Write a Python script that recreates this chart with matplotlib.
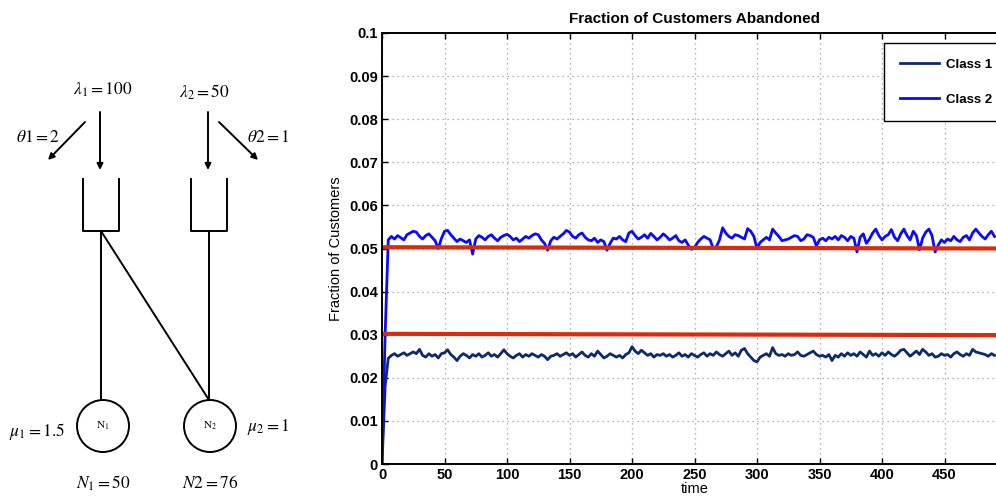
import numpy as np
import matplotlib
matplotlib.use("Agg")
import matplotlib.pyplot as plt
from matplotlib.patches import Circle

# simulated abandonment fractions, sampled every 2.5 time units (values x 1e-4)
time = np.arange(0, 490.1, 2.5)
class1_e4 = [
    0, 180, 245, 252, 256, 250, 254, 258, 252, 256,
    260, 256, 266, 252, 248, 256, 250, 254, 246, 256,
    258, 265, 254, 248, 240, 250, 256, 252, 246, 254,
    250, 256, 248, 252, 258, 250, 254, 248, 256, 265,
    256, 250, 246, 252, 256, 248, 254, 250, 256, 252,
    248, 254, 250, 242, 250, 252, 256, 250, 254, 258,
    252, 256, 248, 254, 260, 252, 248, 256, 250, 262,
    254, 246, 250, 256, 252, 248, 252, 246, 254, 258,
    272, 262, 256, 264, 258, 252, 256, 248, 254, 252,
    256, 250, 254, 248, 252, 258, 250, 254, 248, 256,
    252, 248, 254, 258, 250, 256, 252, 260, 254, 250,
    256, 262, 252, 258, 250, 264, 268, 256, 248, 240,
    237, 248, 252, 256, 250, 270, 256, 252, 254, 250,
    256, 252, 254, 260, 252, 250, 254, 258, 262, 254,
    250, 252, 248, 254, 240, 252, 248, 256, 250, 258,
    252, 256, 250, 260, 254, 248, 262, 252, 256, 250,
    258, 252, 260, 254, 250, 256, 264, 266, 258, 250,
    256, 262, 254, 266, 260, 252, 256, 248, 250, 256,
    252, 254, 248, 256, 260, 254, 250, 256, 252, 266,
    260, 258, 256, 254, 250, 256, 252,
]
class2_e4 = [
    0, 300, 520, 528, 522, 530, 525, 520, 532, 536,
    540, 538, 528, 522, 530, 534, 526, 518, 500, 523,
    540, 542, 532, 524, 516, 522, 518, 514, 520, 487,
    522, 530, 526, 520, 528, 532, 524, 518, 526, 530,
    533, 528, 520, 524, 516, 522, 528, 524, 530, 534,
    532, 520, 512, 496, 518, 526, 522, 528, 534, 542,
    538, 528, 524, 532, 536, 526, 520, 518, 524, 514,
    520, 516, 496, 512, 524, 522, 528, 520, 516, 536,
    540, 530, 522, 526, 532, 524, 535, 528, 520, 526,
    534, 528, 520, 524, 530, 518, 514, 520, 508, 498,
    502, 514, 522, 528, 524, 520, 500, 504, 520, 548,
    536, 528, 524, 532, 530, 526, 522, 546, 540, 528,
    500, 514, 520, 526, 520, 545, 536, 528, 518, 520,
    522, 526, 530, 528, 518, 522, 532, 530, 526, 506,
    520, 524, 518, 526, 522, 528, 520, 530, 526, 518,
    528, 524, 492, 526, 534, 512, 522, 536, 545, 530,
    520, 528, 532, 544, 526, 518, 534, 545, 530, 520,
    540, 530, 497, 524, 538, 545, 530, 492, 508, 520,
    514, 522, 518, 528, 520, 516, 526, 530, 520, 536,
    545, 536, 528, 522, 532, 540, 528,
]
class1 = np.array(class1_e4) / 1e4
class2 = np.array(class2_e4) / 1e4

# fluid-limit (theoretical) levels
theory_t = [0, 500]
theory1 = [0.0302, 0.0299]
theory2 = [0.0503, 0.0500]

xtick_vals = np.arange(0, 501, 50)
xtick_labels = [str(v) for v in xtick_vals[:-1]] + ['']  # 500 falls outside the image
ytick_vals = np.arange(0, 0.1001, 0.01)
ytick_labels = ['0', '0.01', '0.02', '0.03', '0.04', '0.05', '0.06',
                '0.07', '0.08', '0.09', '0.1']

plt.rcParams['mathtext.fontset'] = 'stix'
fig = plt.figure(figsize=(9.96, 4.97), dpi=100)

# ---- left: queueing network sketch, drawn in pixel coordinates ----
d = fig.add_axes([0, 0, 1, 1])
d.set_xlim(0, 996)
d.set_ylim(497, 0)
d.axis('off')
serif = dict(family='STIXGeneral', fontsize=12.5, ha='center', va='center')
lw = 1.4
arr = dict(arrowstyle='-|>', color='k', lw=lw, mutation_scale=9, shrinkA=0, shrinkB=0)
for x0, y0, x1, y1 in [(100, 112, 100, 170), (208, 112, 208, 170),
                       (85, 122, 48, 160), (219, 122, 258, 160)]:
    d.annotate('', xy=(x1, y1), xytext=(x0, y0), arrowprops=arr)
for xl, xr in [(83, 119), (191, 227)]:
    d.plot([xl, xl, xr, xr], [179, 231, 231, 179], color='k', lw=lw)
d.plot([101, 101], [231, 400], color='k', lw=lw)
d.plot([209, 209], [231, 400], color='k', lw=lw)
d.plot([101, 209], [231, 400], color='k', lw=lw)
d.add_patch(Circle((103, 426), 26, fill=False, ec='k', lw=lw))
d.add_patch(Circle((210, 426), 26, fill=False, ec='k', lw=lw))
d.text(103, 90, r'$\lambda_1 = 100$', **serif)
d.text(204, 92, r'$\lambda_2 = 50$', **serif)
d.text(38, 138, r'$\theta{\rm 1} = 2$', **serif)
d.text(268, 138, r'$\theta{\rm 2} = 1$', **serif)
d.text(37, 431, r'$\mu_1 = 1.5$', **serif)
d.text(268, 427, r'$\mu_2 = 1$', **serif)
d.text(103, 426, r'${\rm N}_1$', family='STIXGeneral', fontsize=8, ha='center', va='center')
d.text(210, 426, r'${\rm N}_2$', family='STIXGeneral', fontsize=8, ha='center', va='center')
d.text(103, 483, r'$N_1 = 50$', **serif)
d.text(210, 483, r'$N{\rm 2} = 76$', **serif)

# ---- right: abandonment fractions over time ----
ax = fig.add_axes([382 / 996, 1 - 464 / 497, 625 / 996, 431 / 497])
ax.plot(time, class1, color='#0f2a6c', lw=2.0, label='Class 1')
ax.plot(time, class2, color='#0a0aff', lw=2.0, label='Class 2')
ax.plot(theory_t, theory1, color='#dd2a0c', lw=3.0)
ax.plot(theory_t, theory2, color='#dd2a0c', lw=3.0)
ax.set_xlim(0, 500)
ax.set_ylim(0, 0.1)
ax.set_xticks(xtick_vals)
ax.set_xticklabels(xtick_labels)
ax.set_yticks(ytick_vals)
ax.set_yticklabels(ytick_labels)
ax.grid(True, color='#999999', ls=(0, (1, 3)), lw=0.9)
ax.tick_params(direction='in', length=4, width=1, top=True, right=True, pad=3)
for lab in ax.get_xticklabels() + ax.get_yticklabels():
    lab.set_fontweight('bold')
    lab.set_fontsize(10.5)
    lab.set_family('Liberation Sans')
for s in ax.spines.values():
    s.set_linewidth(1.4)
ax.set_title('Fraction of Customers Abandoned', fontweight='bold', fontsize=11,
             family='Liberation Sans', pad=7)
ax.set_xlabel('time', fontsize=10.5, family='Liberation Sans', labelpad=0)
ax.set_ylabel('Fraction of Customers', fontsize=10.5, family='Liberation Sans', labelpad=4)
leg = ax.legend(loc='upper left', bbox_to_anchor=(0.803, 0.977), borderaxespad=0,
                fancybox=False, edgecolor='k', framealpha=1, handlelength=3.0,
                handletextpad=0.5, labelspacing=1.7, borderpad=1.2,
                prop={'family': 'Liberation Sans', 'weight': 'bold', 'size': 9.5})
leg.get_frame().set_linewidth(1.0)

fig.savefig('out.png', dpi=100)
